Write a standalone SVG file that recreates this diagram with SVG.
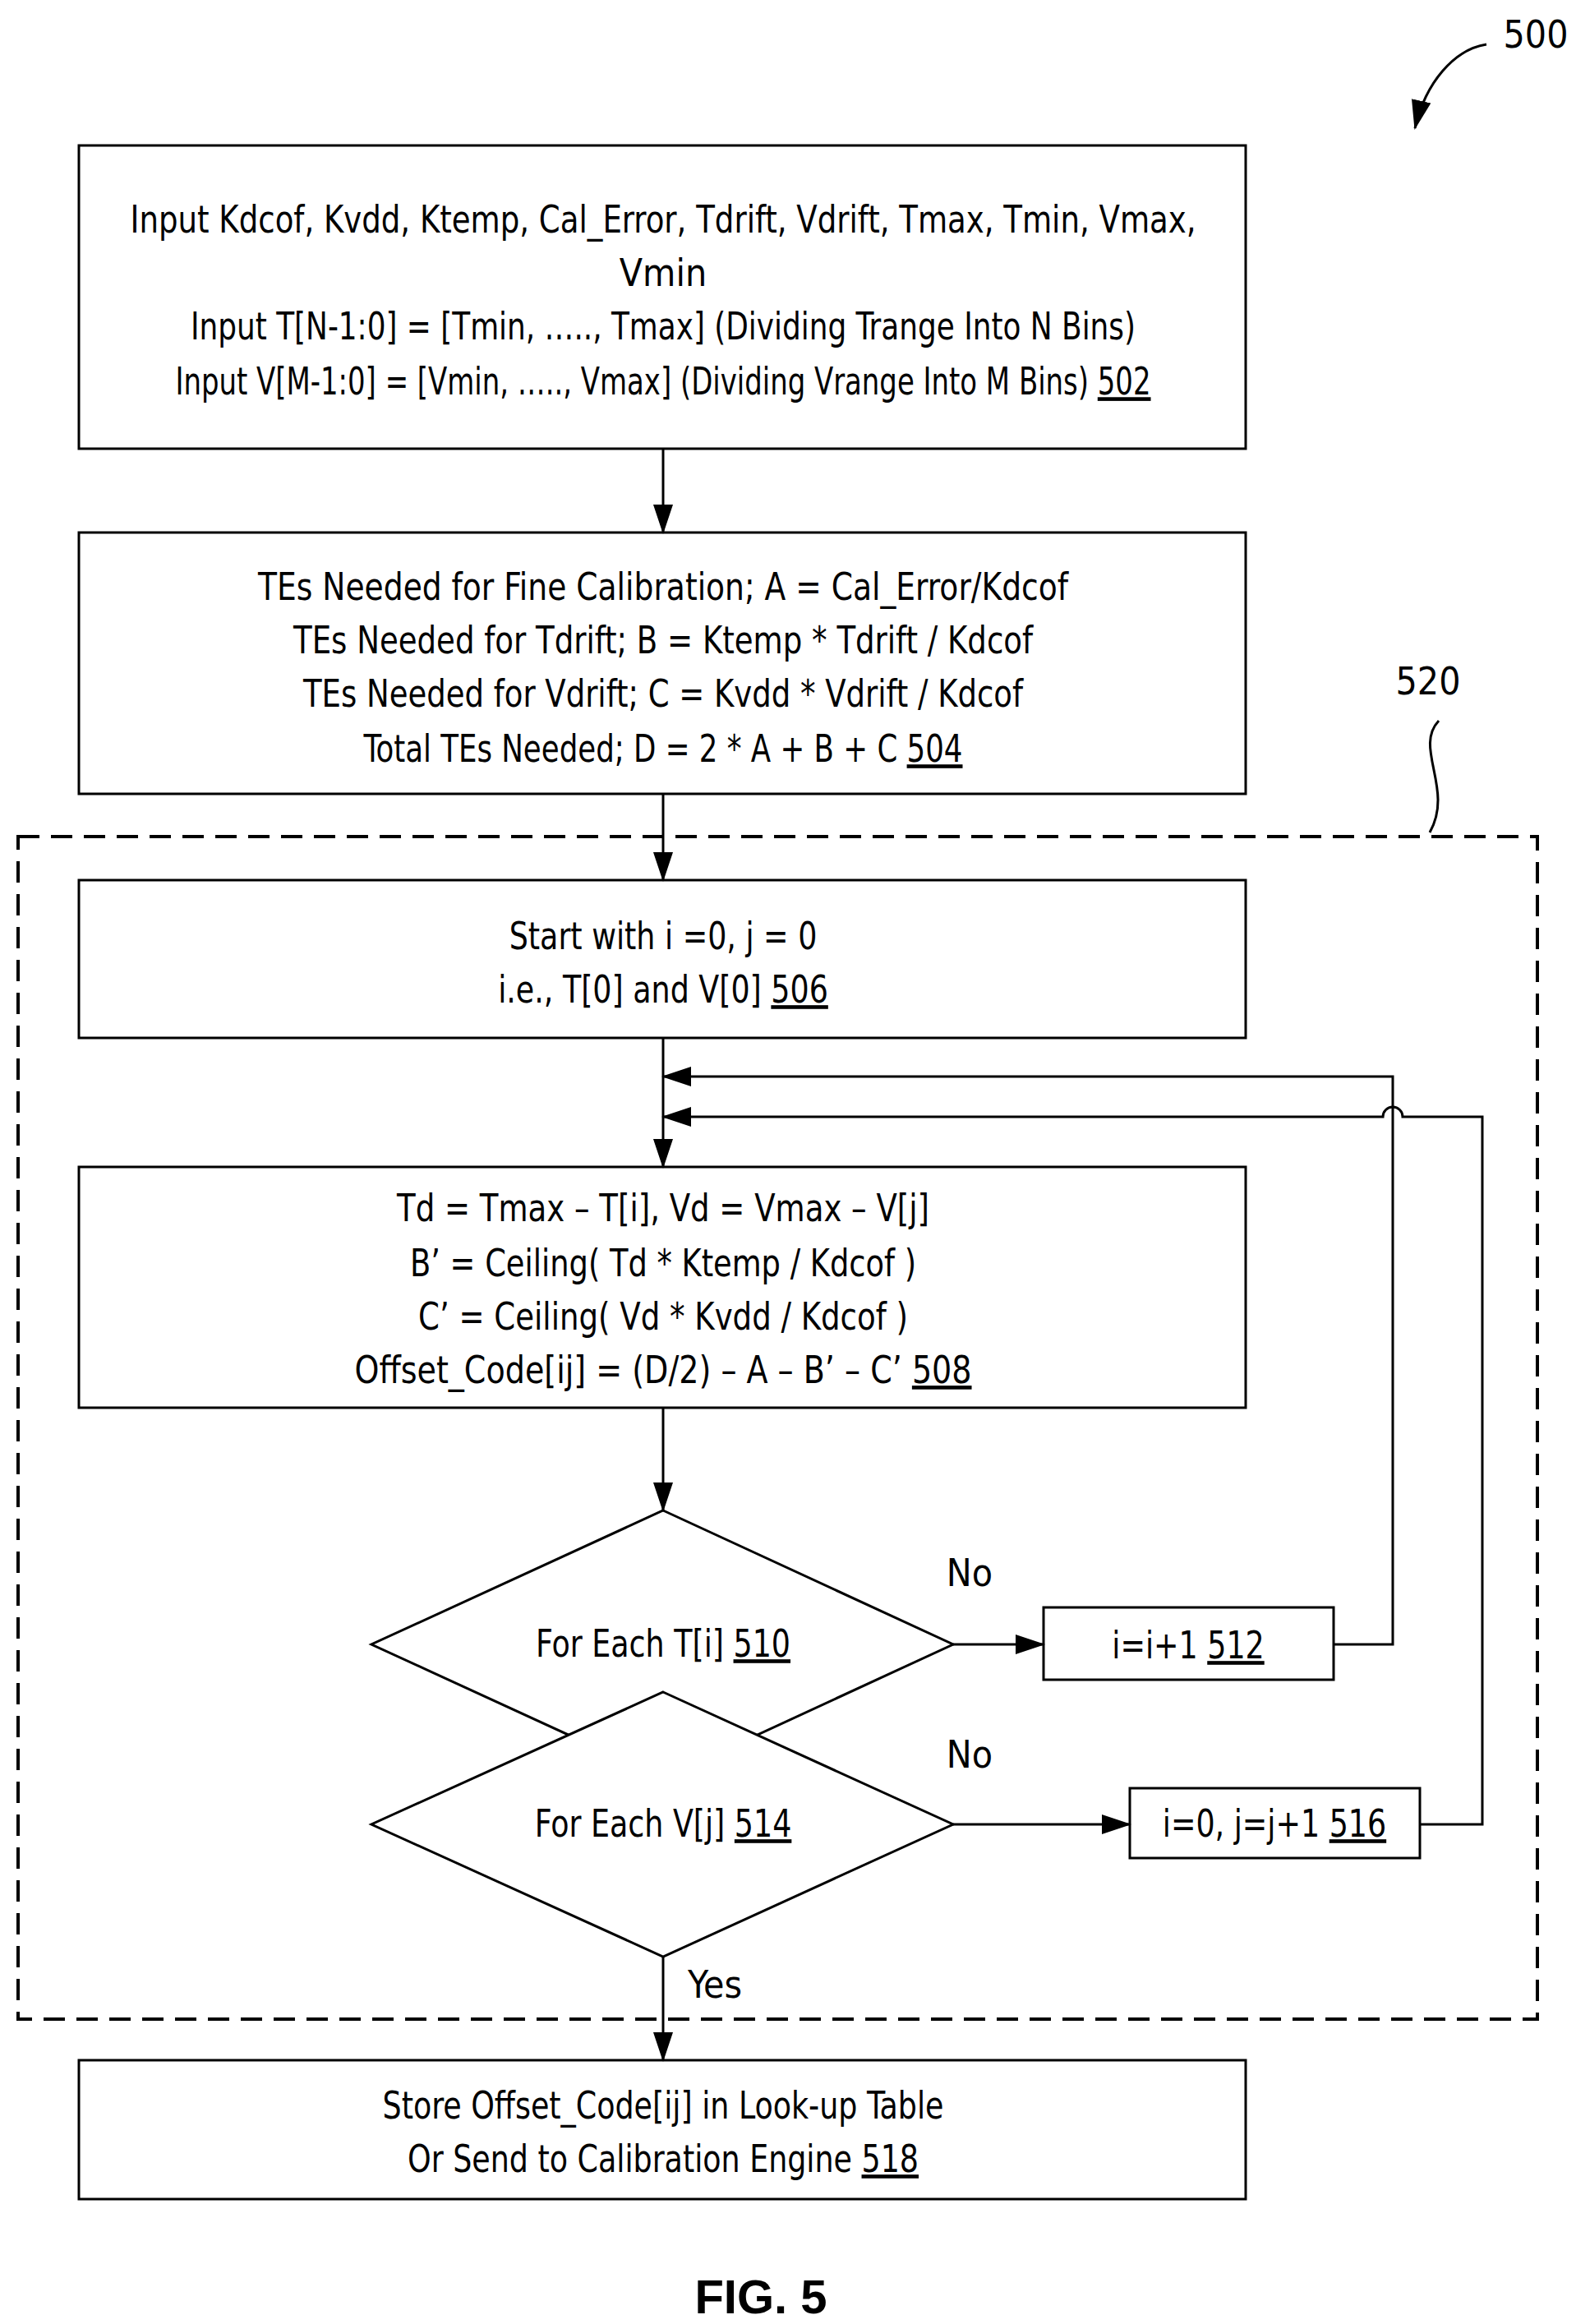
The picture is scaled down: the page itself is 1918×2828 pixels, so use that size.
<svg xmlns="http://www.w3.org/2000/svg" width="1918" height="2828" viewBox="0 0 1918 2828">
<style>
.b{fill:#fff;stroke:#000;stroke-width:3}
.t{font-family:"DejaVu Sans Condensed","Liberation Sans",sans-serif;font-size:46px;text-anchor:middle;fill:#000}
.c{fill:none;stroke:#000;stroke-width:3}
.u{text-decoration:underline}
</style>
<defs>
<marker id="A" markerWidth="36" markerHeight="36" refX="34" refY="18" orient="auto" markerUnits="userSpaceOnUse" viewBox="0 0 36 36"><path d="M0,6 L36,18 L0,30 z"/></marker>
</defs>
<rect x="22" y="1018" width="1849" height="1439" fill="none" stroke="#000" stroke-width="4" stroke-dasharray="26,14"/>
<g id="n502"><rect class="b" x="96" y="177" width="1420" height="369"/>
<text class="t" x="807" y="283" textLength="1297" lengthAdjust="spacingAndGlyphs">Input Kdcof, Kvdd, Ktemp, Cal_Error, Tdrift, Vdrift, Tmax, Tmin, Vmax,</text>
<text class="t" x="807" y="348">Vmin</text>
<text class="t" x="807" y="413" textLength="1150" lengthAdjust="spacingAndGlyphs">Input T[N-1:0] = [Tmin, ….., Tmax] (Dividing Trange Into N Bins)</text>
<text class="t" x="0" y="0" transform="translate(807,480) scale(0.82,1)">Input V[M-1:0] = [Vmin, ….., Vmax] (Dividing Vrange Into M Bins) <tspan class="u">502</tspan></text></g>
<g id="n504"><rect class="b" x="96" y="648" width="1420" height="318"/>
<text class="t" x="807" y="730" textLength="986" lengthAdjust="spacingAndGlyphs">TEs Needed for Fine Calibration; A = Cal_Error/Kdcof</text>
<text class="t" x="807" y="795" textLength="900" lengthAdjust="spacingAndGlyphs">TEs Needed for Tdrift; B = Ktemp * Tdrift / Kdcof</text>
<text class="t" x="807" y="860" textLength="876" lengthAdjust="spacingAndGlyphs">TEs Needed for Vdrift; C = Kvdd * Vdrift / Kdcof</text>
<text class="t" x="0" y="0" transform="translate(807,927) scale(0.86,1)">Total TEs Needed; D = 2 * A + B + C <tspan class="u">504</tspan></text></g>
<g id="n506"><rect class="b" x="96" y="1071" width="1420" height="192"/>
<text class="t" x="0" y="0" transform="translate(807,1155) scale(0.88,1)">Start with i =0, j = 0</text>
<text class="t" x="0" y="0" transform="translate(807,1220) scale(0.88,1)">i.e., T[0] and V[0] <tspan class="u">506</tspan></text></g>
<g id="n508"><rect class="b" x="96" y="1420" width="1420" height="293"/>
<text class="t" x="807" y="1486" textLength="648" lengthAdjust="spacingAndGlyphs">Td = Tmax – T[i], Vd = Vmax – V[j]</text>
<text class="t" x="807" y="1553" textLength="616" lengthAdjust="spacingAndGlyphs">B’ = Ceiling( Td * Ktemp / Kdcof )</text>
<text class="t" x="807" y="1618" textLength="596" lengthAdjust="spacingAndGlyphs">C’ = Ceiling( Vd * Kvdd / Kdcof )</text>
<text class="t" x="0" y="0" transform="translate(807,1683) scale(0.92,1)">Offset_Code[ij] = (D/2) – A – B’ – C’  <tspan class="u">508</tspan></text></g>
<g id="n510"><polygon class="b" points="807,1838 1160,2001 807,2164 452,2001"/>
<text class="t" x="0" y="0" transform="translate(807,2016) scale(0.88,1)">For Each T[i] <tspan class="u">510</tspan></text></g>
<g id="n514"><polygon class="b" points="807,2059 1160,2220 807,2381 452,2220"/>
<text class="t" x="0" y="0" transform="translate(807,2235) scale(0.88,1)">For Each V[j] <tspan class="u">514</tspan></text></g>
<g id="n512"><rect class="b" x="1270" y="1956" width="353" height="88"/>
<text class="t" x="0" y="0" transform="translate(1446,2018) scale(0.88,1)">i=i+1 <tspan class="u">512</tspan></text></g>
<g id="n516"><rect class="b" x="1375" y="2176" width="353" height="85"/>
<text class="t" x="0" y="0" transform="translate(1551,2235) scale(0.88,1)">i=0, j=j+1 <tspan class="u">516</tspan></text></g>
<g id="n518"><rect class="b" x="96" y="2507" width="1420" height="169"/>
<text class="t" x="0" y="0" transform="translate(807,2578) scale(0.88,1)">Store Offset_Code[ij] in Look-up Table</text>
<text class="t" x="0" y="0" transform="translate(807,2643) scale(0.88,1)">Or Send to Calibration Engine <tspan class="u">518</tspan></text></g>
<g id="connectors">
<line class="c" x1="807" y1="546" x2="807" y2="648" marker-end="url(#A)"/>
<line class="c" x1="807" y1="966" x2="807" y2="1071" marker-end="url(#A)"/>
<line class="c" x1="807" y1="1263" x2="807" y2="1420" marker-end="url(#A)"/>
<line class="c" x1="807" y1="1713" x2="807" y2="1838" marker-end="url(#A)"/>
<line class="c" x1="1160" y1="2001" x2="1270" y2="2001" marker-end="url(#A)"/>
<line class="c" x1="1160" y1="2220" x2="1375" y2="2220" marker-end="url(#A)"/>
<path class="c" d="M1623,2001 H1695 V1310 H807" marker-end="url(#A)" stroke-width="4"/>
<path class="c" d="M1728,2220 H1804 V1359 H1707 A12,12 0 0 0 1683,1359 H807" marker-end="url(#A)" stroke-width="4"/>
<line class="c" x1="807" y1="2381" x2="807" y2="2507" marker-end="url(#A)" stroke-width="5"/>
<path class="c" d="M1809,54 C1770,60 1735,100 1722,156" marker-end="url(#A)" stroke-width="3"/>
<path class="c" d="M1751,877 C1720,910 1770,960 1740,1013"/>
</g>
<text class="t" x="1180" y="1930">No</text>
<text class="t" x="1180" y="2151">No</text>
<text class="t" x="870" y="2431">Yes</text>
<text class="t" x="1738" y="845">520</text>
<text class="t" x="1869" y="58">500</text>
<text x="926" y="2815" style="font-family:'Liberation Sans',sans-serif;font-weight:bold;font-size:58px;text-anchor:middle">FIG. 5</text>
</svg>
